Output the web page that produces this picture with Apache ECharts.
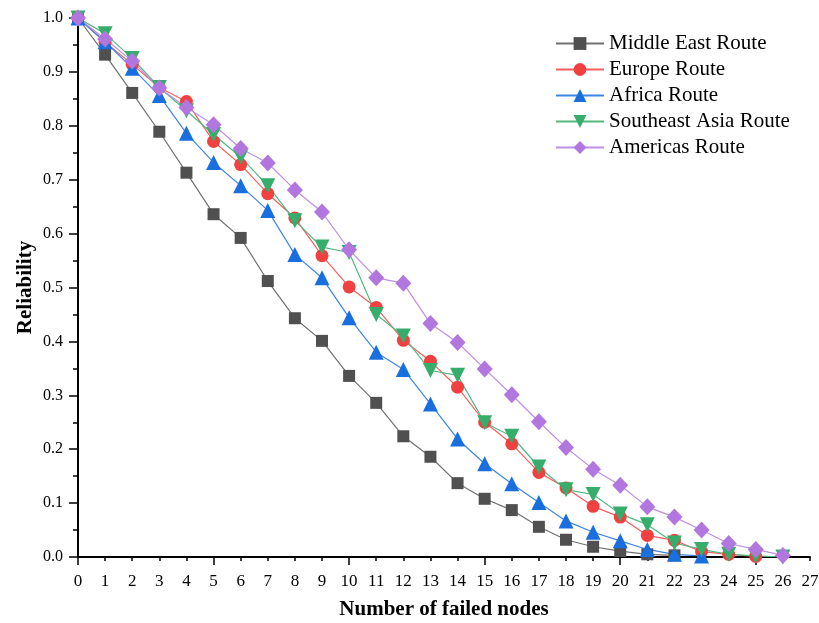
<!DOCTYPE html>
<html>
<head>
<meta charset="utf-8">
<script src="https://cdn.jsdelivr.net/npm/echarts@6/dist/echarts.min.js"></script>
<style>
html,body{margin:0;padding:0;background:#fff;}
#main{width:819px;height:623px;}
</style>
</head>
<body>
<div id="main"></div>
<script>
var nodes = [0,1,2,3,4,5,6,7,8,9,10,11,12,13,14,15,16,17,18,19,20,21,22,23,24,25,26];
var seriesNames = ['Middle East Route','Europe Route','Africa Route','Southeast Asia Route','Americas Route'];
var middleEast = [1.0,0.932,0.861,0.789,0.713,0.636,0.592,0.512,0.443,0.401,0.336,0.286,0.224,0.186,0.137,0.108,0.087,0.056,0.032,0.019,0.011,0.005,0.003];
var europe = [1.0,0.955,0.914,0.871,0.845,0.771,0.728,0.674,0.629,0.559,0.501,0.463,0.402,0.363,0.315,0.250,0.210,0.157,0.128,0.094,0.074,0.040,0.031,0.010,0.005,0.001];
var africa = [1.0,0.956,0.907,0.856,0.786,0.732,0.689,0.643,0.561,0.518,0.444,0.380,0.348,0.284,0.219,0.173,0.136,0.101,0.067,0.046,0.030,0.014,0.005,0.002];
var southeastAsia = [1.0,0.971,0.925,0.871,0.828,0.784,0.742,0.689,0.624,0.575,0.565,0.450,0.410,0.346,0.337,0.249,0.224,0.167,0.125,0.116,0.080,0.060,0.026,0.014,0.005,0.002,0.0];
var americas = [1.0,0.961,0.920,0.870,0.834,0.802,0.758,0.731,0.681,0.640,0.570,0.518,0.508,0.433,0.398,0.349,0.301,0.251,0.203,0.163,0.133,0.093,0.074,0.050,0.025,0.014,0.003];
var majorXTicks = [0,5,10,15,20,25];

function pairs(vals){ return vals.map(function(v,i){ return [nodes[i], v]; }); }

var FONT = '"Liberation Serif","Times New Roman",serif';
var styles = [
  {symbol:'rect', size:12, rot:0, color:'#505050', line:'#707070'},
  {symbol:'circle', size:13, rot:0, color:'#F14040', line:'#F46060'},
  {symbol:'triangle', size:15, rot:0, color:'#1A6FDF', line:'#3F86E4'},
  {symbol:'triangle', size:15, rot:180, color:'#37AD6B', line:'#52BA80'},
  {symbol:'diamond', size:[16,17], rot:0, color:'#B177DE', line:'#BE8FE3'}
];
var datas = [middleEast, europe, africa, southeastAsia, americas];

var series = datas.map(function(d, k){
  var s = styles[k];
  return {
    name: seriesNames[k],
    type: 'line',
    xAxisIndex: 0,
    yAxisIndex: 0,
    data: pairs(d),
    symbol: s.symbol,
    symbolSize: s.size,
    symbolRotate: s.rot,
    showAllSymbol: true,
    itemStyle: {color: s.color},
    lineStyle: {color: s.line, width: 1.2},
    emphasis: {disabled: true}
  };
});

var chart = echarts.init(document.getElementById('main'), null, {renderer:'canvas'});
chart.setOption({
  animation: false,
  backgroundColor: '#fff',
  grid: {left: 78, right: 9, top: 18, bottom: 66, containLabel: false, outerBoundsMode: 'none'},
  legend: {
    orient: 'vertical',
    left: 555,
    top: 33,
    padding: 0,
    itemWidth: 48,
    itemHeight: 16,
    itemGap: 5,
    data: seriesNames,
    textStyle: {fontFamily: FONT, fontSize: 21, color: '#000', lineHeight: 21}
  },
  xAxis: [
    {
      type: 'value', min: 0, max: 27, interval: 1,
      name: 'Number of failed nodes', nameLocation: 'middle', nameGap: 42,
      nameTextStyle: {fontFamily: FONT, fontSize: 21, fontWeight: 'bold', color: '#000'},
      axisLine: {show: true, onZero: false, lineStyle: {color: '#000', width: 2}},
      axisTick: {show: true, length: 4, lineStyle: {color: '#000', width: 1.5}},
      axisLabel: {fontFamily: FONT, fontSize: 17, color: '#000', margin: 16},
      splitLine: {show: false}
    },
    {
      type: 'value', min: 0, max: 27, position: 'bottom',
      axisLine: {show: false},
      axisTick: {show: true, length: 8, customValues: majorXTicks, lineStyle: {color: '#000', width: 1.5}},
      axisLabel: {show: false},
      splitLine: {show: false}
    }
  ],
  yAxis: {
    type: 'value', min: 0, max: 1, interval: 0.1,
    name: 'Reliability', nameLocation: 'middle', nameGap: 42, nameMoveOverlap: false,
    nameTextStyle: {fontFamily: FONT, fontSize: 21, fontWeight: 'bold', color: '#000'},
    axisLine: {show: true, onZero: false, lineStyle: {color: '#000', width: 2}},
    axisTick: {show: true, length: 9, lineStyle: {color: '#000', width: 1.5}},
    minorTick: {show: true, splitNumber: 2, length: 5, lineStyle: {color: '#000', width: 1.5}},
    axisLabel: {fontFamily: FONT, fontSize: 16, color: '#000', margin: 15, formatter: function(v){ return v.toFixed(1); }},
    splitLine: {show: false},
    minorSplitLine: {show: false}
  },
  series: series
});
</script>
</body>
</html>
